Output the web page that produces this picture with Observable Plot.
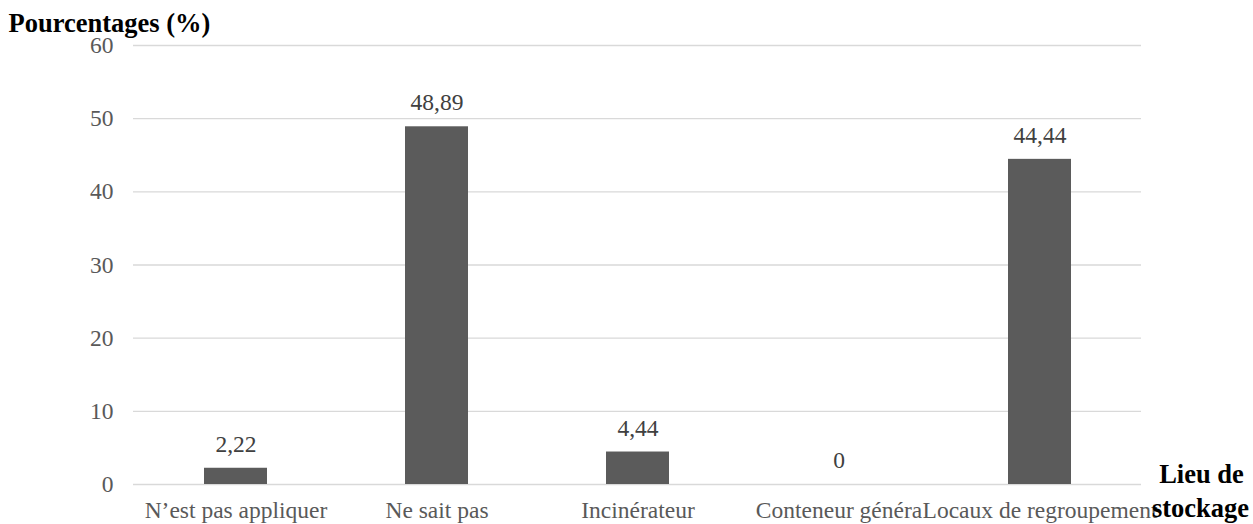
<!DOCTYPE html>
<html>
<head>
<meta charset="utf-8">
<script src="https://cdn.jsdelivr.net/npm/d3@7"></script>
<script src="https://cdn.jsdelivr.net/npm/@observablehq/plot@0.6"></script>
<style>
  html, body { margin: 0; padding: 0; background: #fff; }
</style>
</head>
<body>
<div id="chart"></div>
<script>
// Lieux de stockage des déchets et pourcentages associés
const categories = [
  "N’est pas appliquer",
  "Ne sait pas",
  "Incinérateur",
  "Conteneur généra",
  "Locaux de regroupement"
];
const values = [2.22, 48.89, 4.44, 0, 44.44];
const yTicks = [0, 10, 20, 30, 40, 50, 60];
const yTitle = "Pourcentages (%)";
const xTitle = ["Lieu de", "stockage"];

const data = categories.map((c, i) => ({category: c, value: values[i]}));
const fmt = v => String(v).replace(".", ",");
const serif = "'Liberation Serif', 'Times New Roman', serif";

const chart = Plot.plot({
  width: 1253,
  height: 524,
  marginLeft: 133,
  marginRight: 112,
  marginTop: 45,
  marginBottom: 40,
  style: {
    fontFamily: serif,
    fontSize: "23.5px",
    color: "#595959",
    background: "#fff",
    overflow: "visible"
  },
  x: {domain: categories, paddingInner: 0.6875, paddingOuter: 0.34375, label: null},
  y: {domain: [0, 60], label: null},
  marks: [
    Plot.gridY(yTicks, {stroke: "#d9d9d9", strokeOpacity: 1, strokeWidth: 1.3}),
    Plot.axisY(yTicks, {tickSize: 0, tickPadding: 20, label: null, fontSize: 23.5, fontFamily: serif}),
    Plot.axisX({tickSize: 0, tickPadding: 17, label: null, fontSize: 23.5, fontFamily: serif}),
    Plot.barY(data, {x: "category", y: "value", fill: "#5b5b5b"}),
    Plot.text(data, {
      x: "category",
      y: "value",
      text: d => fmt(d.value),
      dy: -24,
      fill: "#404040",
      fontSize: 23.5,
      fontFamily: serif
    }),
    Plot.text([yTitle], {
      frameAnchor: "top-left",
      textAnchor: "start",
      lineAnchor: "middle",
      dx: -125,
      dy: -22,
      fill: "#000",
      fontSize: 26.5,
      fontWeight: "bold",
      fontFamily: serif,
      text: d => d
    }),
    Plot.text([xTitle[0]], {
      frameAnchor: "bottom-right",
      textAnchor: "middle",
      lineAnchor: "middle",
      dx: 60,
      dy: -10,
      fill: "#000",
      fontSize: 26.5,
      fontWeight: "bold",
      fontFamily: serif,
      text: d => d
    }),
    Plot.text([xTitle[1]], {
      frameAnchor: "bottom-right",
      textAnchor: "middle",
      lineAnchor: "middle",
      dx: 59,
      dy: 24,
      fill: "#000",
      fontSize: 26.5,
      fontWeight: "bold",
      fontFamily: serif,
      text: d => d
    })
  ]
});

document.getElementById("chart").appendChild(chart);
</script>
</body>
</html>
